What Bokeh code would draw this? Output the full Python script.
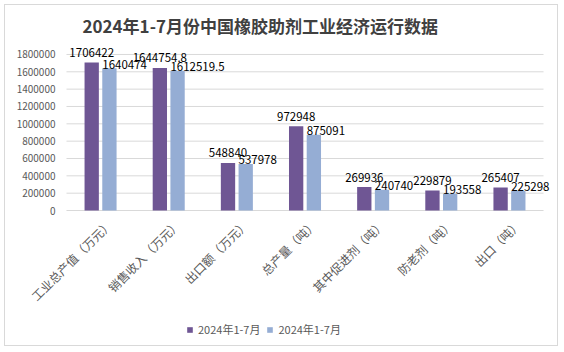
from bokeh.plotting import figure
from bokeh.layouts import column
from bokeh.models import Range1d, Legend, LegendItem, ColumnDataSource, Title
from bokeh.transform import dodge
from bokeh.embed import file_html
from bokeh.resources import INLINE
from bokeh.core.properties import value
import math

categories = ["工业总产值（万元）", "销售收入（万元）", "出口额（万元）", "总产量（吨）",
              "其中促进剂（吨）", "防老剂（吨）", "出口（吨）"]
series1 = [1706422, 1644754.8, 548840, 972948, 269936, 229879, 265407]
series2 = [1640474, 1612519.5, 537978, 875091, 240740, 193558, 225298]
series_names = ["2024年1-7月", "2024年1-7月"]
y_ticks = [0, 200000, 400000, 600000, 800000, 1000000, 1200000, 1400000, 1600000, 1800000]

def fmt(v):
    return str(int(v)) if float(v).is_integer() else str(v)

n = len(categories)
src = ColumnDataSource(dict(xc=[i + 0.5 for i in range(n)], cat=categories, s1=series1, s2=series2,
                            base=[0] * n, l1=[fmt(v) for v in series1], l2=[fmt(v) for v in series2]))
X_START, X_END = -0.895, n + 0.205
tick_src = ColumnDataSource(dict(y=y_ticks, lab=[str(v) for v in y_ticks],
                                 x0=[0] * len(y_ticks), x1=[n] * len(y_ticks),
                                 xl=[X_START] * len(y_ticks)))

FONT = "Noto Sans CJK SC"
C1 = "#6f5694"
C2 = "#95add4"
GRID = "#d9d9d9"
LBL = "#595959"

p = figure(x_range=Range1d(X_START, X_END), y_range=Range1d(-1557000, 1938000),
           width=552, height=340, output_backend="svg", toolbar_location=None,
           min_border_left=0, min_border_right=0, min_border_top=37, min_border_bottom=0)
p.outline_line_color = None
p.xaxis.visible = False
p.yaxis.visible = False
p.xgrid.grid_line_color = None
p.ygrid.grid_line_color = None

t = Title(text="2024年1-7月份中国橡胶助剂工业经济运行数据", align="left", offset=77,
          text_font=FONT, text_font_size="17px", text_font_style="bold", text_color="#404040")
p.add_layout(t, "above")

# gridlines and y tick labels
p.segment(x0="x0", x1="x1", y0="y", y1="y", source=tick_src, line_color=GRID, line_width=1)
p.text(x="xl", y="y", text="lab", source=tick_src, x_offset=50,
       text_align="right", text_baseline="middle",
       text_font=value(FONT), text_font_size="10px", text_color=LBL)

b1 = p.vbar(x=dodge("xc", -0.13), top="s1", width=0.21, source=src,
            fill_color=C1, line_color=None)
b2 = p.vbar(x=dodge("xc", 0.13), top="s2", width=0.21, source=src,
            fill_color=C2, line_color=None)

p.text(x=dodge("xc", -0.13), y="s1", text="l1", source=src,
       text_align="center", text_baseline="alphabetic", y_offset=-10,
       text_font=value(FONT), text_font_size="11.5px", text_color="#000000")
p.text(x=dodge("xc", 0.025), y="s2", text="l2", source=src,
       text_align="left", text_baseline="alphabetic", y_offset=-4,
       text_font=value(FONT), text_font_size="11.5px", text_color="#000000")

# category labels, rotated 45 degrees below the zero line
p.text(x="xc", y="base", text="cat", source=src, angle=math.pi / 4,
       text_align="right", text_baseline="middle", x_offset=9, y_offset=11,
       text_font=value(FONT), text_font_size="12px", text_color=LBL)

legend = Legend(items=[LegendItem(label=series_names[0], renderers=[b1]),
                       LegendItem(label=series_names[1], renderers=[b2])],
                orientation="horizontal", location=(181, 8),
                label_text_font=FONT, label_text_font_size="11px", label_text_color=LBL,
                glyph_width=7, glyph_height=7, label_standoff=5, spacing=6,
                border_line_color=None, background_fill_alpha=0, padding=2, margin=0)
p.add_layout(legend, "center")

layout = column(p, styles={"border": "1px solid #d9d9d9", "margin": "4px"})
open("out.html", "w").write(file_html(layout, INLINE))
